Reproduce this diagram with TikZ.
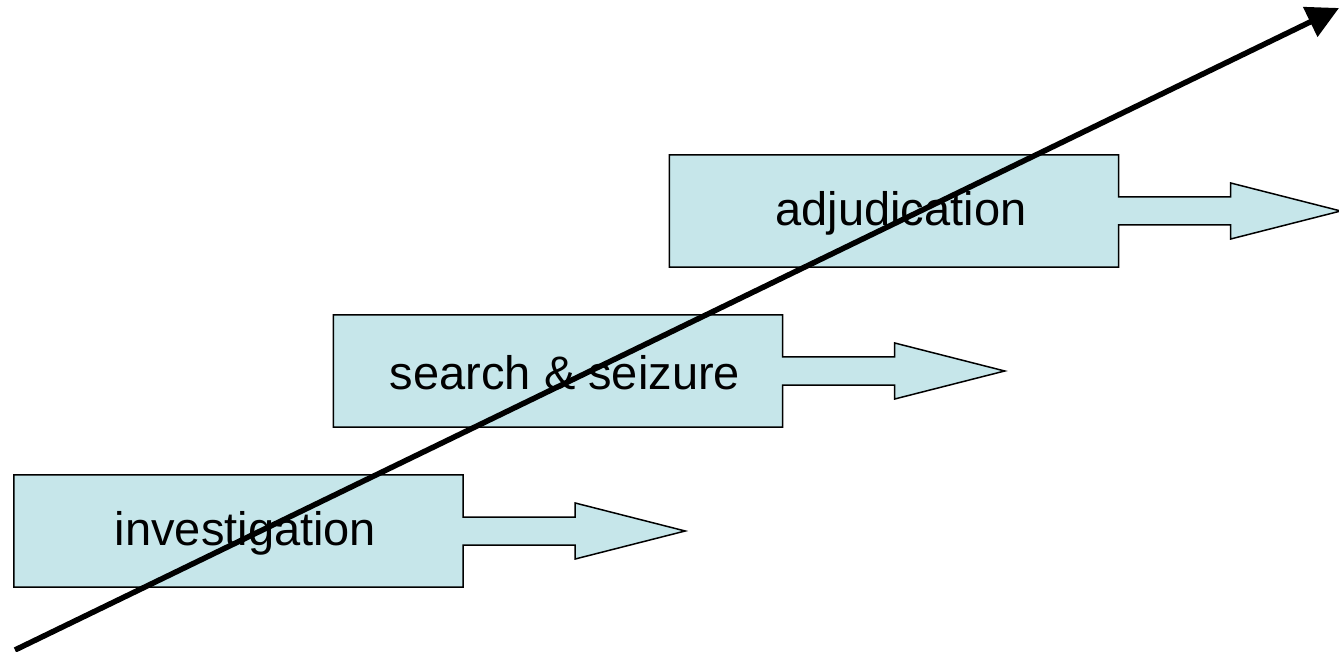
\documentclass[tikz,border=0pt]{standalone}
\usepackage{fontspec}
\setmainfont{Liberation Sans}
\usetikzlibrary{arrows.meta,calc}
\pgfdeclarelayer{background}
\pgfsetlayers{background,main}
\definecolor{boxfill}{RGB}{198,230,234}
\tikzset{
  stage/.style={minimum width=449pt,minimum height=112pt,inner sep=0pt},
  stagetext/.style={font=\fontsize{47}{57}\selectfont,inner sep=0pt},
  stageshape/.style={fill=boxfill,draw=black,line width=1.5pt,line join=miter},
  timeline/.style={line width=5.5pt,-{Triangle[length=32pt,width=32pt]}}
}
\newcommand{\stagearrow}[2]{%
  \node[stagetext] (#1-label) at ($(#1.center)+(7,2)$) {#2};
  \begin{pgfonlayer}{background}
  \path[stageshape] (#1.north west) -- (#1.north east)
    -- ($(#1.east)+(0,-14)$) -- ($(#1.east)+(112,-14)$)
    -- ($(#1.east)+(112,-28)$) -- ($(#1.east)+(222,0)$)
    -- ($(#1.east)+(112,28)$) -- ($(#1.east)+(112,14)$)
    -- ($(#1.east)+(0,14)$) -- (#1.south east) -- (#1.south west) -- cycle;
  \end{pgfonlayer}}
\begin{document}
\begin{tikzpicture}[x=1pt,y=-1pt]
\useasboundingbox (0,0) rectangle (1339,652);
\node[stage] (inv) at (238.5,531) {};
\node[stage] (sea) at (558,371) {};
\node[stage] (adj) at (894,211) {};
\stagearrow{inv}{investigation}
\stagearrow{sea}{search \& seizure}
\stagearrow{adj}{adjudication}
\coordinate (tstart) at (15,650);
\coordinate (tend) at (1339,8);
\draw[timeline] (tstart) -- (tend);
\end{tikzpicture}
\end{document}
